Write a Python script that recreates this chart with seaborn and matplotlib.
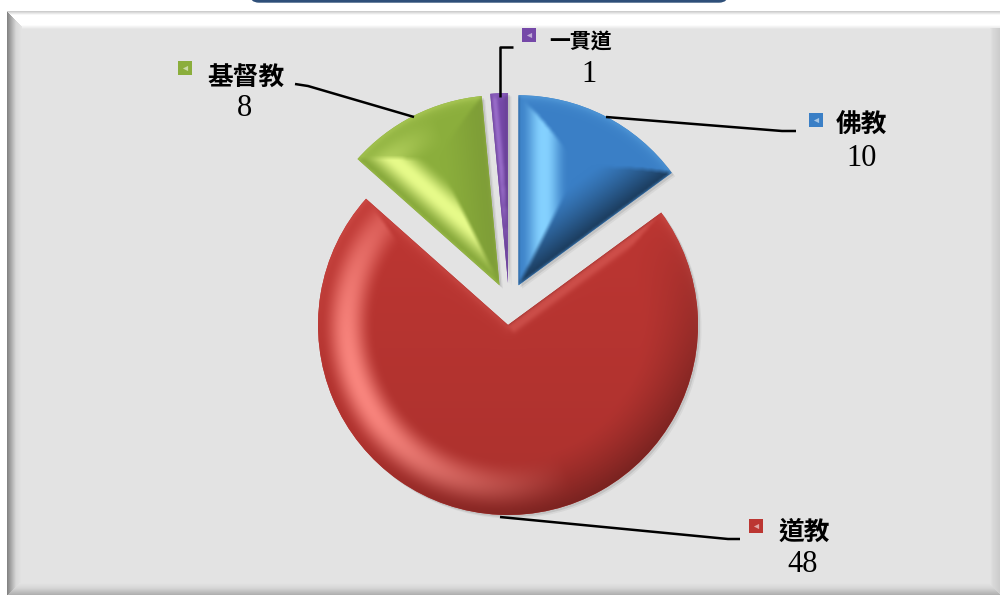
import numpy as np
import matplotlib
matplotlib.use("Agg")
import matplotlib.pyplot as plt
import matplotlib.patheffects as pe
from matplotlib.patches import FancyBboxPatch
import seaborn as sns

categories = ["佛教", "道教", "基督教", "一貫道"]
values = [10, 48, 8, 1]
colors = ["#3A7FC6", "#BC3632", "#8BAE3C", "#7548A8"]

W, H = 1000, 595
sns.set_theme(style="white")
plt.rcParams["font.family"] = ["Noto Sans CJK TC", "DejaVu Sans"]
palette = sns.color_palette(colors)

fig = plt.figure(figsize=(W / 100, H / 100), dpi=100, facecolor="white")
ax = fig.add_axes([0, 0, 1, 1])

wedges, _ = ax.pie(values, colors=palette, startangle=90, counterclock=False,
                   center=(509, H - 304), radius=190, explode=[21] * len(values),
                   wedgeprops=dict(linewidth=0, zorder=2))


def blur(a, n=2):
    out = a.copy()
    for ax_ in (0, 1):
        out = sum(np.roll(out, k, axis=ax_) for k in range(-n, n + 1)) / (2 * n + 1)
    return out


def background():
    yy, xx = np.mgrid[0:H, 0:W] + 0.5
    g = np.full((H, W), 0.894)
    g = np.where(yy < 29, np.interp(yy, [11, 15, 25, 29], [0.78, 1.0, 1.0, 0.894]), g)
    left = np.interp(xx, [7, 9, 16, 22], [0.50, 0.58, 0.85, 0.894])
    mask = (xx < 22) & (xx - 7 < (yy - 11))
    g = np.where(mask, left, g)
    bottom = np.interp(yy, [583, 588, 595], [0.894, 0.84, 0.68])
    mask = (yy > 583) & ((595 - yy) < (xx - 7))
    g = np.where(mask, bottom, g)
    right = np.interp(xx, [990, 993, 1000], [0.894, 0.85, 0.80])
    mask = (xx > 990) & (yy > 28) & ((1000 - xx) < (595 - yy))
    g = np.where(mask, right, g)
    g = np.where((xx < 7) | (yy < 11), 1.0, g)
    return np.dstack([g, g, g])


ax.imshow(background(), extent=(0, W, 0, H), origin="upper", zorder=0,
          interpolation="bilinear", aspect="auto")

ax.add_patch(FancyBboxPatch((250, H - 2), 478, 24, boxstyle="round,pad=0,rounding_size=9",
                            facecolor="#2E4F79", edgecolor="#2E4F79", linewidth=1, zorder=1))

bevel = {0: (50, 50), 1: (13, 56), 2: (46, 46), 3: (7, 7)}
L = np.array([-0.9, -0.35])
tints = {0: (0.52, 0.82, 1.0), 1: (1.0, 0.55, 0.52), 2: (0.92, 1.0, 0.55), 3: (0.72, 0.55, 0.90)}
light_gain = {0: 1.15, 1: 0.95, 2: 1.2, 3: 0.8}
dark_gain = {0: 0.55, 1: 0.30, 2: 0.22, 3: 0.3}


def seg_dist(rx, ry, ang):
    ux, uy = np.cos(ang), np.sin(ang)
    proj = np.clip(rx * ux + ry * uy, 0, None)
    dx, dy = rx - proj * ux, ry - proj * uy
    d = np.hypot(dx, dy) + 1e-6
    return d, -dx / d, -dy / d


for i, wedge in enumerate(wedges):
    cx, cy = wedge.center
    r = wedge.r
    base = np.array(palette[i])
    xs = np.arange(int(cx - r - 8), int(cx + r + 8)) + 0.5
    ys = np.arange(int(cy - r - 8), int(cy + r + 8)) + 0.5
    X, Y = np.meshgrid(xs, ys)
    rx, ry = X - cx, Y - cy
    rho = np.hypot(rx, ry) + 1e-6
    we, wa = bevel[i]
    d1, n1x, n1y = seg_dist(rx, ry, np.radians(wedge.theta1))
    d2, n2x, n2y = seg_dist(rx, ry, np.radians(wedge.theta2))
    d3 = np.abs(r - rho)
    tall = np.stack([d1 / we, d2 / we, d3 / wa])
    idx = tall.argmin(axis=0)
    t = np.clip(tall.min(axis=0), 0, 1)
    nx = np.choose(idx, [n1x, n2x, rx / rho])
    ny = np.choose(idx, [n1y, n2y, ry / rho])
    d = np.choose(idx, [d1, d2, d3])

    s = np.clip(nx * L[0] + ny * L[1], 0, 1)
    peak = np.sin(np.pi * t) ** 2
    light_amt = s * peak * light_gain[i]
    dark_dir = np.clip(nx * 0.6 - ny * 0.8, 0, 1)
    dark_amt = dark_dir * (1 - t) ** 1.3 * dark_gain[i]
    rim = np.exp(-d / 4) * np.clip(ny * 0.8 + 0.2, 0, 1) * 0.35

    img = np.ones(X.shape + (3,)) * base
    tint = np.array(tints[i])
    if i == 1:
        img = img * (1.03 - 0.12 * (Y.max() - Y) / (Y.max() - Y.min()))[..., None]
    img = img + (tint - img) * np.clip(light_amt + rim, 0, 1)[..., None]
    img = img * (1 - np.clip(dark_amt, 0, 0.8))[..., None]
    img = np.dstack([blur(img[..., c]) for c in range(3)])
    im = ax.imshow(np.clip(img, 0, 1), extent=(xs[0], xs[-1], ys[0], ys[-1]),
                   origin="lower", zorder=3, interpolation="bilinear", aspect="auto")
    im.set_clip_path(wedge)
    wedge.set_path_effects([
        pe.SimplePatchShadow(offset=(2.5, -2.5), shadow_rgbFace="k", alpha=0.06),
        pe.SimplePatchShadow(offset=(1.5, -1.5), shadow_rgbFace="k", alpha=0.10),
        pe.Normal()])

layout = {
    "佛教": ((816, 120), (862, 125), (862, 158), [(606, 117), (782, 131), (796, 131)], 18.5),
    "道教": ((756, 526), (804, 532), (803, 565), [(500, 517), (728, 539), (740, 539)], 18.5),
    "基督教": ((185, 68), (246, 78), (245, 109), [(414, 117), (308, 86), (295, 84)], 18.5),
    "一貫道": ((529, 35), (581, 41), (589, 74), [(500, 97), (500, 47), (513, 47)], 15),
}
for i, (name, val) in enumerate(zip(categories, values)):
    key, tpos, vpos, path, fsize = layout[name]
    xs_, ys_ = zip(*path)
    ax.plot(xs_, [H - y for y in ys_], color="black", lw=1.8, zorder=5,
            solid_capstyle="butt", solid_joinstyle="round")
    ax.scatter([key[0]], [H - key[1]], marker="s", s=95, color=[palette[i]],
               linewidths=0, zorder=5)
    ax.scatter([key[0]], [H - key[1]], marker="<", s=14, color="white", alpha=0.55,
               linewidths=0, zorder=6)
    ax.text(tpos[0], H - tpos[1], name, ha="center", va="center", fontsize=fsize,
            color="black", fontweight="bold", zorder=6,
            family=["Noto Sans CJK TC", "DejaVu Sans"])
    ax.text(vpos[0], H - vpos[1], str(val), ha="center", va="center", fontsize=22,
            color="black", zorder=6, family=["Liberation Serif", "DejaVu Serif"])

ax.set_xlim(0, W)
ax.set_ylim(0, H)
ax.set_aspect("auto")
ax.set_axis_off()
fig.savefig("out.png", dpi=100, facecolor="white")
